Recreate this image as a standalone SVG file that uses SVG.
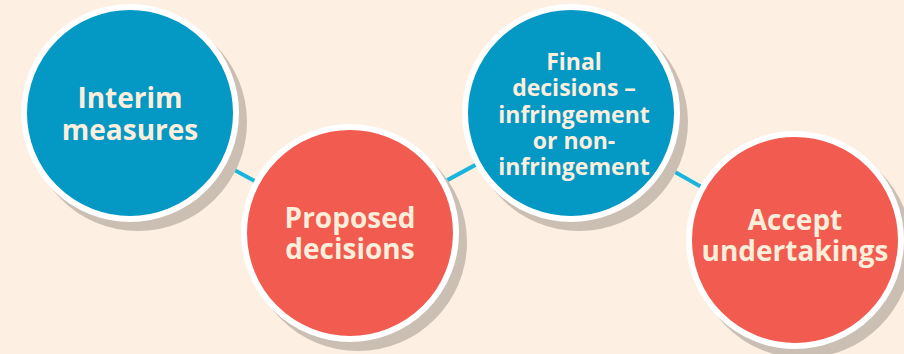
<svg xmlns="http://www.w3.org/2000/svg" width="904" height="354" viewBox="0 0 904 354">
<style>
.shadow{fill:#cbbfb4}
.ring{stroke:#ffffff;stroke-width:6}
.blue{fill:#0498c5}
.red{fill:#f15b50}
.lbl{font-family:"Open Sans","Liberation Sans",sans-serif;font-weight:bold;fill:#fdeedc;text-anchor:middle}
.conn{stroke:#19b5dc;stroke-width:4}
</style>
<rect width="904" height="354" fill="#fdf0e2"/>
<g id="connectors">
<line class="conn" x1="130" y1="113" x2="350" y2="233"/>
<line class="conn" x1="350" y1="233" x2="571" y2="113"/>
<line class="conn" x1="571" y1="113" x2="795" y2="240"/>
</g>
<g id="node-interim">
<circle class="shadow" cx="138" cy="122" r="109"/>
<circle class="blue ring" cx="130" cy="113" r="106"/>
<text class="lbl" font-size="28" x="130" y="108">Interim</text>
<text class="lbl" font-size="28" x="130" y="140">measures</text>
</g>
<g id="node-proposed">
<circle class="shadow" cx="358" cy="242" r="109"/>
<circle class="red ring" cx="350" cy="233" r="106"/>
<text class="lbl" font-size="28" x="350" y="228">Proposed</text>
<text class="lbl" font-size="28" x="350" y="259">decisions</text>
</g>
<g id="node-final">
<circle class="shadow" cx="579" cy="122" r="109"/>
<circle class="blue ring" cx="571" cy="113" r="106"/>
<text class="lbl" font-size="23" x="574" y="70">Final</text>
<text class="lbl" font-size="23" x="574" y="96">decisions –</text>
<text class="lbl" font-size="23" x="574" y="123">infringement</text>
<text class="lbl" font-size="23" x="574" y="149">or non-</text>
<text class="lbl" font-size="23" x="574" y="175">infringement</text>
</g>
<g id="node-accept">
<circle class="shadow" cx="803" cy="249" r="109"/>
<circle class="red ring" cx="795" cy="240" r="106"/>
<text class="lbl" font-size="28" x="795" y="230">Accept</text>
<text class="lbl" font-size="28" x="795" y="261">undertakings</text>
</g>
</svg>
